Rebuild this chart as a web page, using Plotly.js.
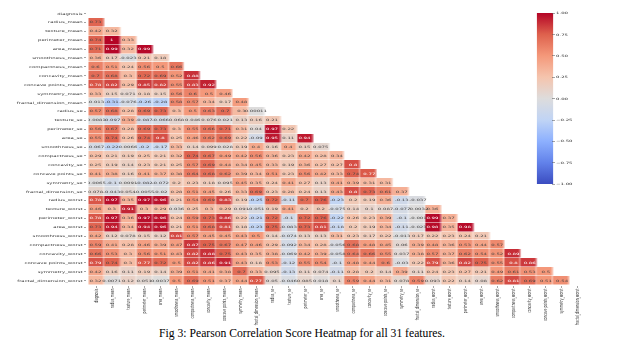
<!DOCTYPE html>
<html>
<head>
<meta charset="utf-8">
<script src="https://cdn.plot.ly/plotly-3.0.1.min.js"></script>
<style>
html,body{margin:0;padding:0;background:#fff;width:618px;height:354px;overflow:hidden}
#chart{position:absolute;left:0;top:0;width:343px;height:354px;transform-origin:0 0;transform:scaleX(1.8017);filter:blur(0.3px)}
#caption{position:absolute;left:0;width:604px;top:327px;text-align:center;font-family:"Liberation Serif",serif;font-size:11.65px;color:#000;white-space:nowrap}
</style>
</head>
<body>
<div id="chart"></div>
<div id="caption">Fig 3: Pearson Correlation Score Heatmap for all 31 features.</div>
<script>
const features = ["diagnosis","radius_mean","texture_mean","perimeter_mean","area_mean","smoothness_mean","compactness_mean","concavity_mean","concave points_mean","symmetry_mean","fractal_dimension_mean","radius_se","texture_se","perimeter_se","area_se","smoothness_se","compactness_se","concavity_se","concave points_se","symmetry_se","fractal_dimension_se","radius_worst","texture_worst","perimeter_worst","area_worst","smoothness_worst","compactness_worst","concavity_worst","concave points_worst","symmetry_worst","fractal_dimension_worst"];

const radius_mean = [0.73];
const texture_mean = [0.42,0.32];
const perimeter_mean = [0.74,1,0.33];
const area_mean = [0.71,0.99,0.32,0.99];
const smoothness_mean = [0.36,0.17,-0.023,0.21,0.18];
const compactness_mean = [0.6,0.51,0.24,0.56,0.5,0.66];
const concavity_mean = [0.7,0.68,0.3,0.72,0.69,0.52,0.88];
const concave_points_mean = [0.78,0.82,0.29,0.85,0.82,0.55,0.83,0.92];
const symmetry_mean = [0.33,0.15,0.071,0.18,0.15,0.56,0.6,0.5,0.46];
const fractal_dimension_mean = [-0.013,-0.31,-0.076,-0.26,-0.28,0.58,0.57,0.34,0.17,0.48];
const radius_se = [0.57,0.68,0.28,0.69,0.73,0.3,0.5,0.63,0.7,0.3,0.00011];
const texture_se = [-0.0083,-0.097,0.39,-0.087,-0.066,0.068,0.046,0.076,0.021,0.13,0.16,0.21];
const perimeter_se = [0.56,0.67,0.28,0.69,0.73,0.3,0.55,0.66,0.71,0.31,0.04,0.97,0.22];
const area_se = [0.55,0.74,0.26,0.74,0.8,0.25,0.46,0.62,0.69,0.22,-0.09,0.95,0.11,0.94];
const smoothness_se = [-0.067,-0.22,0.0066,-0.2,-0.17,0.33,0.14,0.099,0.028,0.19,0.4,0.16,0.4,0.15,0.075];
const compactness_se = [0.29,0.21,0.19,0.25,0.21,0.32,0.74,0.67,0.49,0.42,0.56,0.36,0.23,0.42,0.28,0.34];
const concavity_se = [0.25,0.19,0.14,0.23,0.21,0.25,0.57,0.69,0.44,0.34,0.45,0.33,0.19,0.36,0.27,0.27,0.8];
const concave_points_se = [0.41,0.38,0.16,0.41,0.37,0.38,0.64,0.68,0.62,0.39,0.34,0.51,0.23,0.56,0.42,0.33,0.74,0.77];
const symmetry_se = [-0.0065,-0.1,0.0091,-0.082,-0.072,0.2,0.23,0.18,0.095,0.45,0.35,0.24,0.41,0.27,0.13,0.41,0.39,0.31,0.31];
const fractal_dimension_se = [0.078,-0.043,0.054,-0.0055,-0.02,0.28,0.51,0.45,0.26,0.33,0.69,0.23,0.28,0.24,0.13,0.43,0.8,0.73,0.61,0.37];
const radius_worst = [0.78,0.97,0.35,0.97,0.96,0.21,0.54,0.69,0.83,0.19,-0.25,0.72,-0.11,0.7,0.76,-0.23,0.2,0.19,0.36,-0.13,-0.037];
const texture_worst = [0.46,0.3,0.91,0.3,0.29,0.036,0.25,0.3,0.29,0.091,-0.051,0.19,0.41,0.2,0.2,-0.075,0.14,0.1,0.087,-0.077,-0.0032,0.36];
const perimeter_worst = [0.78,0.97,0.36,0.97,0.96,0.24,0.59,0.73,0.86,0.22,-0.21,0.72,-0.1,0.72,0.76,-0.22,0.26,0.23,0.39,-0.1,-0.001,0.99,0.37];
const area_worst = [0.73,0.94,0.34,0.94,0.96,0.21,0.51,0.68,0.81,0.18,-0.23,0.75,-0.083,0.73,0.81,-0.18,0.2,0.19,0.34,-0.11,-0.023,0.98,0.35,0.98];
const smoothness_worst = [0.42,0.12,0.078,0.15,0.12,0.81,0.57,0.45,0.45,0.43,0.5,0.14,-0.074,0.13,0.13,0.31,0.23,0.17,0.22,-0.013,0.17,0.22,0.23,0.24,0.21];
const compactness_worst = [0.59,0.41,0.28,0.46,0.39,0.47,0.87,0.75,0.67,0.47,0.46,0.29,-0.092,0.34,0.28,-0.056,0.68,0.48,0.45,0.06,0.39,0.48,0.36,0.53,0.44,0.57];
const concavity_worst = [0.66,0.53,0.3,0.56,0.51,0.43,0.82,0.88,0.75,0.43,0.35,0.38,-0.069,0.42,0.39,-0.058,0.64,0.66,0.55,0.037,0.38,0.57,0.37,0.62,0.54,0.52,0.89];
const concave_points_worst = [0.79,0.74,0.3,0.77,0.72,0.5,0.82,0.86,0.91,0.43,0.18,0.53,-0.12,0.55,0.54,-0.1,0.48,0.44,0.6,-0.03,0.22,0.79,0.36,0.82,0.75,0.55,0.8,0.86];
const symmetry_worst = [0.42,0.16,0.11,0.19,0.14,0.39,0.51,0.41,0.38,0.7,0.33,0.095,-0.13,0.11,0.074,-0.11,0.28,0.2,0.14,0.39,0.11,0.24,0.23,0.27,0.21,0.49,0.61,0.53,0.5];
const fractal_dimension_worst = [0.32,0.0071,0.12,0.051,0.0037,0.5,0.69,0.51,0.37,0.44,0.77,0.05,-0.046,0.085,0.018,0.1,0.59,0.44,0.31,0.078,0.59,0.093,0.22,0.14,0.08,0.62,0.81,0.69,0.51,0.54];

const lowerRows = [[],radius_mean,texture_mean,perimeter_mean,area_mean,smoothness_mean,compactness_mean,concavity_mean,concave_points_mean,symmetry_mean,fractal_dimension_mean,radius_se,texture_se,perimeter_se,area_se,smoothness_se,compactness_se,concavity_se,concave_points_se,symmetry_se,fractal_dimension_se,radius_worst,texture_worst,perimeter_worst,area_worst,smoothness_worst,compactness_worst,concavity_worst,concave_points_worst,symmetry_worst,fractal_dimension_worst];
const z = lowerRows.map(r => features.map((_, i) => (i < r.length ? r[i] : null)));

const colorbarTicks = [-1,-0.75,-0.5,-0.25,0,0.25,0.5,0.75,1];
const coolwarm = [[0,'#3b4cc0'],[0.125,'#6282ea'],[0.25,'#8db0fe'],[0.375,'#c0d4f5'],[0.5,'#dddcdc'],[0.625,'#f5c4ad'],[0.75,'#f4987a'],[0.875,'#de614d'],[1,'#b40426']];

const s = 1.8017, W = 343, H = 354;
const left = 89/s, right = 585/s, top_ = 8.9, bottom = 284.8;
const fam = '"DejaVu Sans", sans-serif';

Plotly.newPlot('chart', [{
  type:'heatmap', z:z, x:features, y:features,
  colorscale:coolwarm, zmin:-1, zmax:1, xgap:0.35, ygap:0.5, hoverongaps:false,
  texttemplate:'%{z:.2~g}', textfont:{family:fam,size:3},
  colorbar:{
    x:(536/s-left)/(right-left), xanchor:'left', xref:'paper',
    y:(bottom-184)/(bottom-top_), yanchor:'bottom',
    lenmode:'pixels', len:170.6, thicknessmode:'pixels', thickness:8.9,
    xpad:0, ypad:0, outlinewidth:0,
    tickmode:'array', tickvals:colorbarTicks, tickformat:'.2f',
    ticks:'outside', ticklen:1.5, tickwidth:0.4, tickcolor:'#555',
    tickfont:{family:fam,size:3,color:'#333'}
  }
}],{
  width:W, height:H, paper_bgcolor:'#fff', plot_bgcolor:'#fff',
  margin:{l:left,r:W-right,t:top_,b:H-bottom,pad:0},
  font:{family:fam,size:3,color:'#333'},
  xaxis:{type:'category',tickangle:-90,ticks:'outside',ticklen:1.5,tickwidth:0.4,tickcolor:'#555',showgrid:false,zeroline:false,showline:false,automargin:false,tickfont:{family:fam,size:3,color:'#333'},tickmode:'array',tickvals:features,ticktext:features},
  yaxis:{type:'category',autorange:'reversed',ticks:'outside',ticklen:1.5,tickwidth:0.4,tickcolor:'#555',showgrid:false,zeroline:false,showline:false,automargin:false,tickfont:{family:fam,size:3,color:'#333'},tickmode:'array',tickvals:features,ticktext:features}
},{staticPlot:true,displayModeBar:false});
</script>
</body>
</html>
